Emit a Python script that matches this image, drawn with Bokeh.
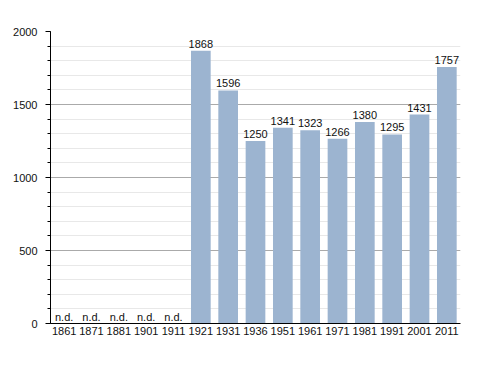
from bokeh.plotting import figure
from bokeh.models import ColumnDataSource, SingleIntervalTicker, FactorRange, Range1d, LabelSet
from bokeh.core.properties import value
from bokeh.embed import file_html
from bokeh.resources import INLINE

years = ["1861", "1871", "1881", "1901", "1911", "1921", "1931", "1936",
         "1951", "1961", "1971", "1981", "1991", "2001", "2011"]
population = [None, None, None, None, None, 1868, 1596, 1250,
              1341, 1323, 1266, 1380, 1295, 1431, 1757]

bar_years = [y for y, v in zip(years, population) if v is not None]
bar_vals = [v for v in population if v is not None]
bar_labels = [str(v) for v in bar_vals]
nd_years = [y for y, v in zip(years, population) if v is None]
nd_vals = [0] * len(nd_years)
nd_labels = ["n.d."] * len(nd_years)

FONT = "Liberation Sans"

p = figure(x_range=FactorRange(*years, range_padding=0), y_range=Range1d(0, 2000),
           width=480, height=360, output_backend="svg", toolbar_location=None,
           min_border_left=50, min_border_right=20, min_border_top=31, min_border_bottom=37)
p.outline_line_color = None
p.background_fill_color = "white"

src = ColumnDataSource(dict(x=bar_years, top=bar_vals, label=bar_labels))
p.vbar(x="x", top="top", width=0.72, source=src, fill_color="#9cb4d0", line_color=None)

p.add_layout(LabelSet(x="x", y="top", text="label", source=src, text_align="center",
                      text_baseline="bottom", y_offset=3, text_font_size="11px",
                      text_font=value(FONT), text_color="#111111"))

nd_src = ColumnDataSource(dict(x=nd_years, y=nd_vals, label=nd_labels))
p.add_layout(LabelSet(x="x", y="y", text="label", source=nd_src, text_align="center",
                      text_baseline="bottom", y_offset=1, text_font_size="11px",
                      text_font=value(FONT), text_color="#111111"))

p.yaxis.ticker = SingleIntervalTicker(interval=500, num_minor_ticks=5)
p.ygrid.grid_line_color = "#aaaaaa"
p.ygrid.minor_grid_line_color = "#e8e8e8"
p.xgrid.grid_line_color = None
p.ygrid.level = "underlay"

for ax in (p.xaxis, p.yaxis):
    ax.axis_line_color = "black"
    ax.major_label_text_font = FONT
    ax.major_label_text_font_size = "11px"
    ax.major_label_text_color = "#111111"

p.yaxis.major_tick_out = 5
p.yaxis.major_tick_in = 0
p.yaxis.minor_tick_out = 3
p.yaxis.minor_tick_in = 0
p.yaxis.major_tick_line_color = "black"
p.yaxis.minor_tick_line_color = "black"
p.yaxis.major_label_standoff = 8

p.xaxis.major_tick_line_color = None
p.xaxis.minor_tick_line_color = None
p.xaxis.major_tick_out = 0
p.xaxis.major_tick_in = 0
p.xaxis.major_label_standoff = 3

open("out.html", "w").write(file_html(p, INLINE))
